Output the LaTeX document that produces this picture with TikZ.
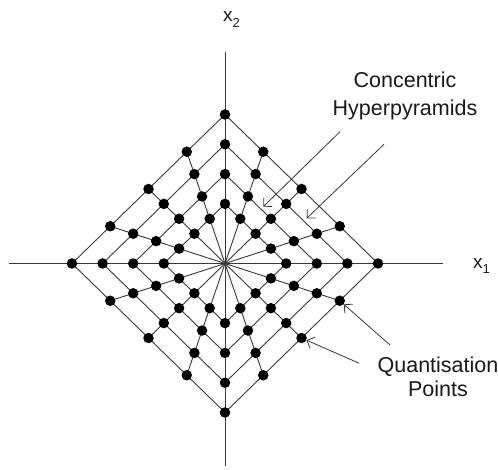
\documentclass[tikz,border=0pt]{standalone}
\usepackage{fontspec}
\setmainfont{Liberation Sans}
\usetikzlibrary{arrows.meta,backgrounds}
\begin{document}
\begin{tikzpicture}[x=1pt,y=-1pt,
  dot/.style={circle,fill=black,inner sep=0pt,minimum size=10.5pt},
  wire/.style={draw=black!78,line width=0.9pt},
  pointer/.style={draw=black!78,line width=0.8pt,-{Straight Barb[length=6pt,width=12pt]}},
  lbl/.style={inner sep=0pt,align=center,text=black!90},
  axlbl/.style={anchor=base west,inner sep=0pt,text=black!90,font=\fontsize{19}{19}\selectfont}]
\useasboundingbox (0,0) rectangle (498,470);
\coordinate (O) at (225,263.5);
\coordinate (axL) at (9,263.5);
\coordinate (axR) at (443,263.5);
\coordinate (axT) at (225,52);
\coordinate (axB) at (225,466);
% quantisation points on four concentric pyramids
\begin{scope}[shift={(225,263.5)},x=30.6pt,y=29.8pt]
  \foreach \r in {2,3,4,5}{
    \foreach \dx/\dy [count=\i from 0] in {1/0,0.75/0.25,0.5/0.5,0.25/0.75,0/1,-0.25/0.75,-0.5/0.5,-0.75/0.25,-1/0,-0.75/-0.25,-0.5/-0.5,-0.25/-0.75,0/-1,0.25/-0.75,0.5/-0.5,0.75/-0.25}{
      \node[dot] (p\r-\i) at ({\r*(\dx)},{\r*(\dy)}) {};
    }
  }
\end{scope}
\begin{scope}[on background layer]
  \draw[wire] (axL) -- (axR);
  \draw[wire] (axT) -- (axB);
  \foreach \r in {2,3,4,5}{
    \draw[wire] (p\r-0.center) -- (p\r-4.center) -- (p\r-8.center) -- (p\r-12.center) -- cycle;
  }
  \foreach \k in {0,...,15}{
    \draw[wire] (O) -- (p5-\k.center);
  }
\end{scope}
% labels
\node[axlbl] (x2lab) at (223,21.7) {x\raisebox{-5.5pt}{\fontsize{13}{13}\selectfont 2}};
\node[axlbl] (x1lab) at (473,269) {x\raisebox{-5pt}{\fontsize{13}{13}\selectfont 1}};
\node[lbl,font=\fontsize{21.5}{27.5}\selectfont] (hyp) at (405,96) {Concentric\\Hyperpyramids};
\node[lbl,font=\fontsize{21.5}{24}\selectfont] (qp) at (438,377) {Quantisation\\Points};
% pointers
\coordinate (h1s) at (340,131.7);
\coordinate (h1e) at (263.3,206.7);
\coordinate (h2s) at (384,144.3);
\coordinate (h2e) at (306.7,218.3);
\coordinate (q1s) at (390,345);
\coordinate (q2s) at (359.3,363.3);
\draw[pointer] (h1s) -- (h1e);
\draw[pointer] (h2s) -- (h2e);
\draw[pointer] (q1s) -- (p5-15);
\draw[pointer] (q2s) -- (p5-14);
\end{tikzpicture}
\end{document}
